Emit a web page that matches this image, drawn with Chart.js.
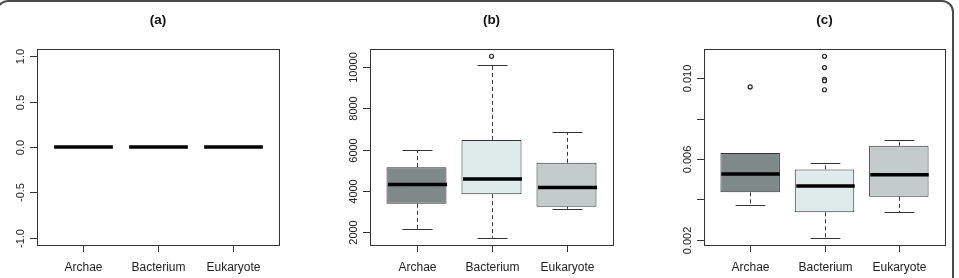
<!DOCTYPE html>
<html>
<head>
<meta charset="utf-8">
<script src="https://cdn.jsdelivr.net/npm/chart.js@4.4.1/dist/chart.umd.min.js"></script>
<style>
  html, body { margin: 0; padding: 0; background: #fff; overflow: hidden; }
  body { width: 959px; height: 278px; position: relative; }
  #frame {
    position: absolute; left: -4px; top: 0; width: 958px; height: 400px;
    border: 2px solid #4a4a4a; border-radius: 12px; box-sizing: border-box;
  }
  canvas { position: absolute; top: 0; }
</style>
</head>
<body>
<div id="frame"></div>
<canvas id="panelA" width="320" height="278" style="left:0"></canvas>
<canvas id="panelB" width="320" height="278" style="left:320px"></canvas>
<canvas id="panelC" width="319" height="278" style="left:640px"></canvas>
<script>
// categorias e cores das caixas
const categories = ["Archae", "Bacterium", "Eukaryote"];
const boxColors = ["#7f8987", "#deebea", "#c3cccb"];

// painel (a)
const aLow = [0, 0, 0];
const aQ1 = [0, 0, 0];
const aMed = [0, 0, 0];
const aQ3 = [0, 0, 0];
const aHigh = [0, 0, 0];
const aOut = [[], [], []];
const aTicks = [-1, -0.5, 0, 0.5, 1];
const aTickLabels = ["-1.0", "-0.5", "0.0", "0.5", "1.0"];

// painel (b)
const bLow = [2160, 1740, 3140];
const bQ1 = [3384, 3850, 3240];
const bMed = [4322, 4580, 4178];
const bQ3 = [5160, 6480, 5370];
const bHigh = [6000, 10110, 6840];
const bOut = [[], [10530], []];
const bTicks = [2000, 4000, 6000, 8000, 10000];
const bTickLabels = ["2000", "4000", "6000", "8000", "10000"];

// painel (c)
const cLow = [0.00371, 0.00209, 0.00335];
const cQ1 = [0.00434, 0.00335, 0.00412];
const cMed = [0.00525, 0.00465, 0.00521];
const cQ3 = [0.00629, 0.00548, 0.00665];
const cHigh = [0.00629, 0.00581, 0.00693];
const cOut = [[0.00957], [0.01109, 0.01053, 0.00995, 0.00987, 0.00943], []];
const cTicks = [0.002, 0.004, 0.006, 0.008, 0.010];
const cTickLabels = ["0.002", "", "0.006", "", "0.010"];

const FONT = "'Liberation Sans', Arial, Helvetica, sans-serif";

// faixa do eixo y no estilo do R (extensão de 4%)
function yRange(low, high, out) {
  const all = low.concat(high, out.flat());
  let lo = Math.min(...all), hi = Math.max(...all);
  if (hi === lo) { lo -= 1; hi += 1; }
  const ext = (hi - lo) * 0.04;
  return { min: lo - ext, max: hi + ext };
}

const boxplotPlugin = {
  id: "boxplot",
  afterDatasetsDraw(chart) {
    const p = chart.options.plugins.boxplot;
    const { ctx, chartArea } = chart;
    const x = chart.scales.x, y = chart.scales.y;
    const ext = (chartArea.right - chartArea.left) * 0.04;
    const left = chartArea.left - ext, right = chartArea.right + ext;
    const top = chartArea.top, bottom = chartArea.bottom;
    const boxW = x.width / categories.length * 0.8;

    ctx.save();
    // bigodes
    categories.forEach((c, i) => {
      const cx = Math.round(x.getPixelForValue(i)) + 0.5;
      ctx.strokeStyle = "#333";
      ctx.lineWidth = 1;
      ctx.setLineDash([4, 3]);
      ctx.beginPath();
      ctx.moveTo(cx, y.getPixelForValue(p.q3[i]));
      ctx.lineTo(cx, y.getPixelForValue(p.high[i]));
      ctx.moveTo(cx, y.getPixelForValue(p.q1[i]));
      ctx.lineTo(cx, y.getPixelForValue(p.low[i]));
      ctx.stroke();
      ctx.setLineDash([]);
      ctx.beginPath();
      [p.high[i], p.low[i]].forEach((v) => {
        const py = Math.round(y.getPixelForValue(v)) + 0.5;
        ctx.moveTo(cx - boxW / 4, py);
        ctx.lineTo(cx + boxW / 4, py);
      });
      ctx.stroke();
      // mediana
      ctx.strokeStyle = "#000";
      ctx.lineWidth = 3.5;
      ctx.beginPath();
      const my = y.getPixelForValue(p.med[i]);
      ctx.moveTo(cx - boxW / 2 + 0.5, my);
      ctx.lineTo(cx + boxW / 2 - 0.5, my);
      ctx.stroke();
    });

    // moldura do gráfico
    ctx.strokeStyle = "#333";
    ctx.lineWidth = 1;
    ctx.strokeRect(Math.round(left) + 0.5, Math.round(top) + 0.5,
      Math.round(right - left), Math.round(bottom - top));

    // eixo y
    ctx.fillStyle = "#222";
    ctx.font = "11px " + FONT;
    p.ticks.forEach((t, k) => {
      const py = Math.round(y.getPixelForValue(t)) + 0.5;
      ctx.beginPath();
      ctx.moveTo(left, py);
      ctx.lineTo(left - 7, py);
      ctx.stroke();
      if (p.tickLabels[k]) {
        ctx.save();
        ctx.translate(left - 16, py);
        ctx.rotate(-Math.PI / 2);
        ctx.textAlign = "center";
        ctx.textBaseline = "middle";
        ctx.fillText(p.tickLabels[k], 0, 0);
        ctx.restore();
      }
    });

    // eixo x
    ctx.font = "12px " + FONT;
    ctx.textAlign = "center";
    ctx.textBaseline = "middle";
    categories.forEach((c, i) => {
      const cx = Math.round(x.getPixelForValue(i)) + 0.5;
      ctx.beginPath();
      ctx.moveTo(cx, bottom);
      ctx.lineTo(cx, bottom + 7);
      ctx.stroke();
      ctx.fillText(c, cx, bottom + 23);
    });

    // título
    ctx.font = "bold 13.5px " + FONT;
    ctx.fillStyle = "#111";
    ctx.fillText(p.title, (left + right) / 2, 20);
    ctx.restore();
  },
};

function makePanel(id, title, low, q1, med, q3, high, out, ticks, tickLabels, padding) {
  const range = yRange(low, high, out);
  const outPoints = [];
  out.forEach((vals, i) => vals.forEach((v) => outPoints.push({ x: categories[i], y: v })));

  return new Chart(document.getElementById(id), {
    type: "bar",
    data: {
      labels: categories,
      datasets: [
        {
          label: "caixas",
          data: categories.map((c, i) => [q1[i], q3[i]]),
          backgroundColor: boxColors,
          borderColor: "#333",
          borderWidth: 1,
          borderSkipped: false,
          categoryPercentage: 1,
          barPercentage: 0.8,
        },
        {
          type: "line",
          label: "outliers",
          data: outPoints,
          showLine: false,
          pointStyle: "circle",
          pointRadius: 2,
          pointBorderWidth: 1.2,
          pointBorderColor: "#222",
          pointBackgroundColor: "#fff",
        },
      ],
    },
    options: {
      responsive: false,
      animation: false,
      layout: { padding },
      scales: {
        x: { type: "category", display: false, offset: true },
        y: { display: false, min: range.min, max: range.max },
      },
      plugins: {
        legend: { display: false },
        tooltip: { enabled: false },
        boxplot: { title, low, q1, med, q3, high, ticks, tickLabels },
      },
    },
    plugins: [boxplotPlugin],
  });
}

makePanel("panelA", "(a)", aLow, aQ1, aMed, aQ3, aHigh, aOut, aTicks, aTickLabels,
  { left: 46, right: 50, top: 49, bottom: 33 });
makePanel("panelB", "(b)", bLow, bQ1, bMed, bQ3, bHigh, bOut, bTicks, bTickLabels,
  { left: 59, right: 36, top: 49, bottom: 33 });
makePanel("panelC", "(c)", cLow, cQ1, cMed, cQ3, cHigh, cOut, cTicks, cTickLabels,
  { left: 73, right: 23, top: 49, bottom: 33 });
</script>
</body>
</html>
